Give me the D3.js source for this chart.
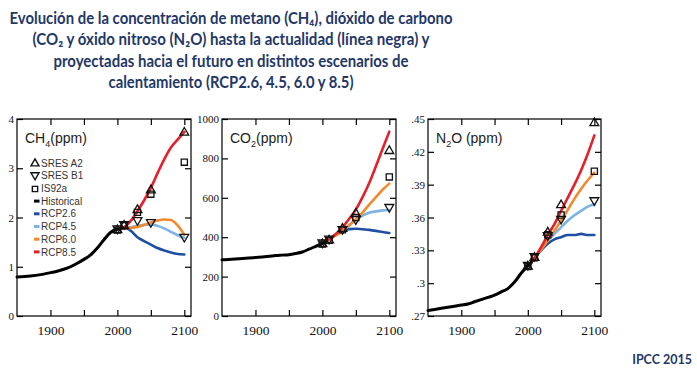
<!DOCTYPE html>
<html>
<head>
<meta charset="utf-8">
<script src="https://cdn.jsdelivr.net/npm/d3@7"></script>
<style>
  html, body { margin: 0; padding: 0; background: #fff; }
  svg { display: block; }
</style>
</head>
<body>
<svg id="chart" width="697" height="369"></svg>
<script>
// ---- data -------------------------------------------------------------
const titleLines = [
  "Evolución de la concentración de metano (CH₄), dióxido de carbono",
  "(CO₂ y óxido nitroso (N₂O) hasta la actualidad (línea negra) y",
  "proyectadas hacia el futuro en distintos escenarios de",
  "calentamiento (RCP2.6, 4.5, 6.0 y 8.5)"
];
const sourceLabel = "IPCC 2015";

const xTicks = [1900, 1950, 2000, 2050, 2100];
const xTickLabels = ["1900", "", "2000", "", "2100"];

const histYears = [1850, 1870, 1890, 1900, 1910, 1920, 1930, 1940, 1950, 1960, 1970, 1980, 1990, 2000, 2005];
const rcpYears = [2005, 2010, 2020, 2030, 2040, 2050, 2060, 2070, 2080, 2090, 2100];
const sresYears = [2000, 2010, 2030, 2050, 2100];

const rcpNames = ["RCP2.6", "RCP4.5", "RCP6.0", "RCP8.5"];
const sresNames = ["SRES A2", "SRES B1", "IS92a"];

// CH4 (ppm)
const ch4Hist = [0.79, 0.81, 0.85, 0.88, 0.91, 0.95, 1.00, 1.07, 1.15, 1.24, 1.38, 1.55, 1.70, 1.76, 1.77];
const ch4Rcp26 = [1.77, 1.80, 1.73, 1.60, 1.52, 1.45, 1.38, 1.33, 1.29, 1.26, 1.25];
const ch4Rcp45 = [1.77, 1.78, 1.80, 1.83, 1.85, 1.86, 1.83, 1.78, 1.71, 1.64, 1.59];
const ch4Rcp60 = [1.77, 1.78, 1.79, 1.81, 1.85, 1.90, 1.94, 1.96, 1.95, 1.84, 1.65];
const ch4Rcp85 = [1.77, 1.80, 1.93, 2.13, 2.35, 2.60, 2.90, 3.18, 3.42, 3.58, 3.74];
const ch4A2 = [1.76, 1.85, 2.17, 2.57, 3.74];
const ch4B1 = [1.76, 1.85, 1.93, 1.89, 1.59];
const ch4Is92a = [1.76, 1.85, 2.12, 2.49, 3.14];
const ch4Ticks = [0, 1, 2, 3, 4];
const ch4TickLabels = ["0", "1", "2", "3", "4"];

// CO2 (ppm)
const co2Hist = [285, 289, 294, 297, 300, 303, 307, 309, 311, 317, 325, 339, 354, 369, 379];
const co2Rcp26 = [379, 390, 412, 431, 441, 443, 440, 437, 432, 426, 421];
const co2Rcp45 = [379, 390, 412, 435, 460, 487, 509, 524, 531, 536, 538];
const co2Rcp60 = [379, 389, 409, 431, 460, 492, 525, 565, 603, 641, 672];
const co2Rcp85 = [379, 390, 416, 450, 494, 540, 603, 675, 760, 849, 936];
const co2A2 = [369, 388, 447, 524, 842];
const co2B1 = [369, 388, 437, 487, 549];
const co2Is92a = [369, 388, 442, 504, 710];
const co2Ticks = [0, 200, 400, 600, 800, 1000];
const co2TickLabels = ["0", "200", "400", "600", "800", "1000"];

// N2O (ppm)
const n2oHist = [0.275, 0.277, 0.279, 0.280, 0.281, 0.283, 0.285, 0.287, 0.289, 0.292, 0.295, 0.301, 0.309, 0.316, 0.319];
const n2oRcp26 = [0.319, 0.323, 0.330, 0.336, 0.340, 0.342, 0.344, 0.344, 0.345, 0.344, 0.344];
const n2oRcp45 = [0.319, 0.323, 0.331, 0.339, 0.345, 0.351, 0.357, 0.362, 0.366, 0.370, 0.372];
const n2oRcp60 = [0.319, 0.323, 0.331, 0.339, 0.348, 0.357, 0.367, 0.377, 0.386, 0.394, 0.401];
const n2oRcp85 = [0.319, 0.323, 0.333, 0.344, 0.354, 0.366, 0.378, 0.390, 0.403, 0.418, 0.435];
const n2oA2 = [0.316, 0.324, 0.347, 0.372, 0.447];
const n2oB1 = [0.316, 0.324, 0.343, 0.358, 0.375];
const n2oIs92a = [0.316, 0.324, 0.345, 0.363, 0.403];
const n2oTicks = [0.27, 0.30, 0.33, 0.36, 0.39, 0.42, 0.45];
const n2oTickLabels = [".27", ".3", ".33", ".36", ".39", ".42", ".45"];

// ---- styling ------------------------------------------------------------
const rcpColors = ["#1f4fa3", "#7db3e3", "#f08a2c", "#e3202b"];
const histColor = "#000";
const navy = "#1f3868";

const svg = d3.select("#chart");

// Title, four centred lines
const titleWidths = [443, 397, 355, 245];
svg.append("g").selectAll("text").data(titleLines).join("text")
  .attr("x", 231)
  .attr("y", (d, i) => 23.5 + i * 21.5)
  .attr("text-anchor", "middle")
  .attr("font-family", "Lato, 'Open Sans', sans-serif")
  .attr("font-weight", "bold")
  .attr("font-size", 17)
  .attr("fill", navy)
  .attr("textLength", (d, i) => titleWidths[i])
  .attr("lengthAdjust", "spacingAndGlyphs")
  .text(d => d);

svg.append("text")
  .attr("x", 692).attr("y", 364)
  .attr("text-anchor", "end")
  .attr("font-family", "Lato, 'Open Sans', sans-serif")
  .attr("font-weight", "bold")
  .attr("font-size", 12.5)
  .attr("fill", navy)
  .text(sourceLabel);

// ---- panels -----------------------------------------------------------
const panels = [
  { left: 17, right: 191, yDomain: [0, 4], ticks: ch4Ticks, tickLabels: ch4TickLabels,
    label: ["CH", "4", "(ppm)"], hist: ch4Hist, rcp: [ch4Rcp26, ch4Rcp45, ch4Rcp60, ch4Rcp85],
    sres: [ch4A2, ch4B1, ch4Is92a], legend: true },
  { left: 222, right: 396, yDomain: [0, 1000], ticks: co2Ticks, tickLabels: co2TickLabels,
    label: ["CO", "2", "(ppm)"], hist: co2Hist, rcp: [co2Rcp26, co2Rcp45, co2Rcp60, co2Rcp85],
    sres: [co2A2, co2B1, co2Is92a], legend: false },
  { left: 428, right: 601, yDomain: [0.27, 0.45], ticks: n2oTicks, tickLabels: n2oTickLabels,
    label: ["N", "2", "O (ppm)"], hist: n2oHist, rcp: [n2oRcp26, n2oRcp45, n2oRcp60, n2oRcp85],
    sres: [n2oA2, n2oB1, n2oIs92a], legend: false }
];
const plotTop = 119, plotBottom = 316;

const symbolGen = [
  d3.symbol().type(d3.symbolTriangle).size(34),
  d3.symbol().type(d3.symbolTriangle).size(34),
  d3.symbol().type(d3.symbolSquare).size(38)
];
const symbolRotate = [0, 180, 0];

panels.forEach(p => {
  const g = svg.append("g");
  const x = d3.scaleLinear().domain([1850, 2110]).range([p.left, p.right]);
  const y = d3.scaleLinear().domain(p.yDomain).range([plotBottom, plotTop]);

  const line = (xs, ys) => d3.line()
    .x((d, i) => x(xs[i]))
    .y(d => y(d))
    .curve(d3.curveMonotoneX)(ys);

  // scenario lines
  p.rcp.forEach((vals, k) => {
    g.append("path")
      .attr("d", line(rcpYears, vals))
      .attr("fill", "none")
      .attr("stroke", rcpColors[k])
      .attr("stroke-width", 2.6)
      .attr("stroke-linecap", "round");
  });
  // historical
  g.append("path")
    .attr("d", line(histYears, p.hist))
    .attr("fill", "none")
    .attr("stroke", histColor)
    .attr("stroke-width", 3)
    .attr("stroke-linecap", "round");

  // SRES / IS92a markers
  p.sres.forEach((vals, k) => {
    g.append("g").selectAll("path").data(vals).join("path")
      .attr("d", symbolGen[k])
      .attr("transform", (d, i) => `translate(${x(sresYears[i])},${y(d) + (k === 1 ? -0.8 : 0.8)}) rotate(${symbolRotate[k]})`)
      .attr("fill", "none")
      .attr("stroke", "#111")
      .attr("stroke-width", 1.3);
  });

  // frame
  g.append("rect")
    .attr("x", p.left).attr("y", plotTop)
    .attr("width", p.right - p.left).attr("height", plotBottom - plotTop)
    .attr("fill", "none").attr("stroke", "#000").attr("stroke-width", 1.2);

  const tickStyle = sel => {
    sel.select(".domain").remove();
    sel.selectAll(".tick line").attr("stroke", "#000").attr("stroke-width", 1.2);
    sel.selectAll(".tick text")
      .attr("font-family", "'Liberation Serif', 'Times New Roman', serif")
      .attr("fill", "#111");
  };

  // bottom axis with labels
  g.append("g").attr("transform", `translate(0,${plotBottom})`)
    .call(d3.axisBottom(x).tickValues(xTicks).tickSize(-6).tickPadding(9)
      .tickFormat((d, i) => xTickLabels[i]))
    .call(tickStyle)
    .call(s => s.selectAll(".tick text").attr("font-size", 13.5));
  // top axis, ticks only
  g.append("g").attr("transform", `translate(0,${plotTop})`)
    .call(d3.axisTop(x).tickValues(xTicks).tickSize(-6).tickFormat(""))
    .call(tickStyle);
  // left axis with labels
  g.append("g").attr("transform", `translate(${p.left},0)`)
    .call(d3.axisLeft(y).tickValues(p.ticks).tickSize(-6).tickPadding(3)
      .tickFormat((d, i) => p.tickLabels[i]))
    .call(tickStyle)
    .call(s => s.selectAll(".tick text").attr("font-size", 11));
  // right axis, ticks only
  g.append("g").attr("transform", `translate(${p.right},0)`)
    .call(d3.axisRight(y).tickValues(p.ticks).tickSize(-6).tickFormat(""))
    .call(tickStyle);

  // panel label with subscript
  const lbl = g.append("text")
    .attr("x", p.left + 8).attr("y", 143)
    .attr("font-family", "'Liberation Sans', Arial, sans-serif")
    .attr("font-size", 14)
    .attr("fill", "#222");
  lbl.append("tspan").text(p.label[0]);
  lbl.append("tspan").attr("font-size", 9).attr("dy", 4).text(p.label[1]);
  lbl.append("tspan").attr("dy", -4).text(p.label[2]);

  // legend
  if (p.legend) {
    const lg = g.append("g");
    const items = sresNames.map((n, k) => ({ name: n, kind: "sym", k }))
      .concat([{ name: "Historical", kind: "line", color: histColor }])
      .concat(rcpNames.map((n, k) => ({ name: n, kind: "line", color: rcpColors[k] })));
    items.forEach((it, i) => {
      const yy = 163 + i * 12.7;
      if (it.kind === "sym") {
        lg.append("path")
          .attr("d", d3.symbol().type(it.k === 2 ? d3.symbolSquare : d3.symbolTriangle).size(28)())
          .attr("transform", `translate(35,${yy + (it.k === 1 ? -0.6 : 0.6)}) rotate(${symbolRotate[it.k]})`)
          .attr("fill", "none").attr("stroke", "#111").attr("stroke-width", 1.4);
      } else {
        lg.append("line")
          .attr("x1", 34).attr("x2", 39.5).attr("y1", yy).attr("y2", yy)
          .attr("stroke", it.color).attr("stroke-width", 3);
      }
      lg.append("text")
        .attr("x", 41).attr("y", yy + 3.6)
        .attr("font-family", "'Liberation Sans', Arial, sans-serif")
        .attr("font-size", 10)
        .attr("fill", "#333")
        .text(it.name);
    });
  }
});
</script>
</body>
</html>
